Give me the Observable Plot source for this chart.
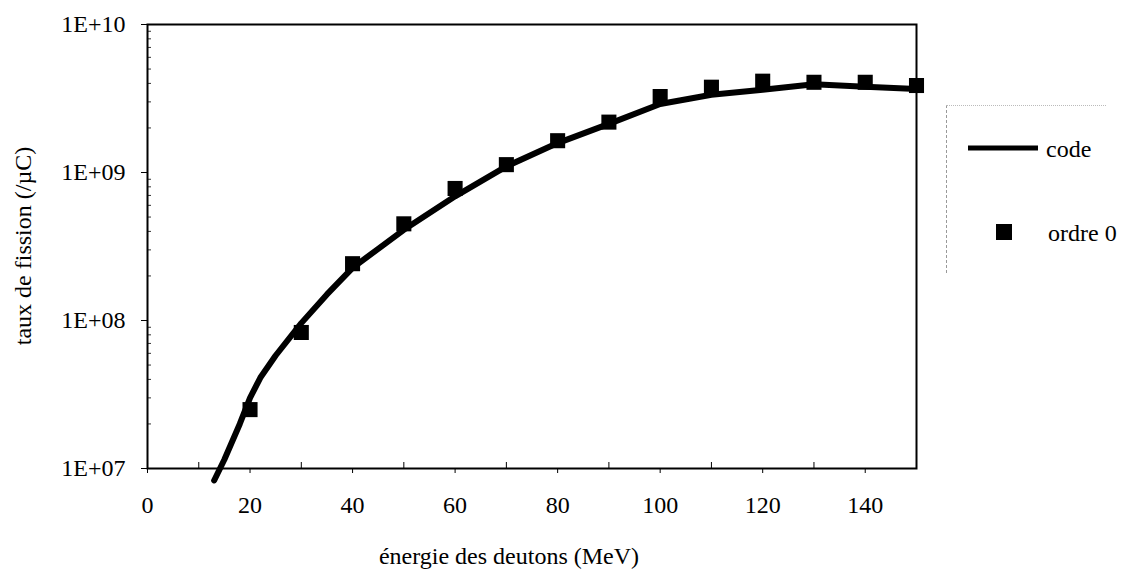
<!DOCTYPE html>
<html>
<head>
<meta charset="utf-8">
<script src="https://cdn.jsdelivr.net/npm/d3@7"></script>
<script src="https://cdn.jsdelivr.net/npm/@observablehq/plot@0.6"></script>
<style>
  body { margin: 0; background: #fff; }
  #wrap { position: relative; width: 1125px; height: 571px; font-family: "Liberation Serif", "Times New Roman", serif; color: #000; }
  .title { position: absolute; font-size: 24px; line-height: 24px; white-space: nowrap; }
  #xtitle { left: 509px; top: 544px; transform: translateX(-50%); }
  #ytitle { left: 23px; top: 246px; transform: translate(-50%, -50%) rotate(-90deg); }
  #legend { position: absolute; left: 946px; top: 105px; width: 159px; height: 167px; border-left: 1px dashed #999; border-top: 1px dotted #bbb; }
  #legend svg { overflow: visible; }
</style>
</head>
<body>
<div id="wrap">
  <div id="chart"></div>
  <div class="title" id="xtitle">énergie des deutons (MeV)</div>
  <div class="title" id="ytitle">taux de fission (/µC)</div>
  <div id="legend"></div>
</div>
<script>
// ---- data ----
const ordreEnergy = [20, 30, 40, 50, 60, 70, 80, 90, 100, 110, 120, 130, 140, 150];
const ordreRate   = [2.5e7, 8.3e7, 2.42e8, 4.5e8, 7.8e8, 1.13e9, 1.64e9, 2.19e9, 3.26e9, 3.77e9, 4.14e9, 4.07e9, 4.07e9, 3.87e9];

const codeEnergy = [13, 15, 18, 20, 22, 25, 30, 35, 40, 45, 50, 60, 70, 80, 90, 100, 110, 120, 130, 140, 150];
const codeRate   = [8.3e6, 1.15e7, 2.0e7, 3.0e7, 4.1e7, 5.8e7, 9.6e7, 1.5e8, 2.27e8, 3.05e8, 4.1e8, 6.9e8, 1.1e9, 1.58e9, 2.13e9, 2.9e9, 3.35e9, 3.62e9, 3.95e9, 3.8e9, 3.67e9];

const xTicks = [0, 20, 40, 60, 80, 100, 120, 140];
const xMinorTicks = [10, 30, 50, 70, 90, 110, 130, 150];
const yTicks = [1e7, 1e8, 1e9, 1e10];
const yTickLabels = ["1E+07", "1E+08", "1E+09", "1E+10"];
const yMinorTicks = [2e7,3e7,4e7,5e7,6e7,7e7,8e7,9e7,2e8,3e8,4e8,5e8,6e8,7e8,8e8,9e8,2e9,3e9,4e9,5e9,6e9,7e9,8e9,9e9];

const legendLabels = ["code", "ordre 0"];

// ---- tables ----
const ordre = ordreEnergy.map((e, i) => ({energy: e, rate: ordreRate[i]}));
const code = codeEnergy.map((e, i) => ({energy: e, rate: codeRate[i]}));

const chart = Plot.plot({
  width: 1125,
  height: 571,
  marginLeft: 147,
  marginRight: 209,
  marginTop: 24,
  marginBottom: 103,
  style: {fontFamily: '"Liberation Serif", "Times New Roman", serif', fontSize: "24px", color: "#000", background: "#fff", overflow: "visible"},
  x: {domain: [0, 150]},
  y: {type: "log", domain: [1e7, 1e10]},
  marks: [
    Plot.axisX(xTicks, {tickSize: 5, tickPadding: 22, label: null, stroke: "#000", fontSize: 24}),
    Plot.axisY(yTicks, {tickSize: 6, tickPadding: 16, label: null, fontSize: 24, tickFormat: (d) => yTickLabels[yTicks.indexOf(d)]}),
    Plot.tickX(xMinorTicks, {x: (d) => d, insetTop: 438, stroke: "#000", strokeWidth: 1}),
    Plot.tickY(yMinorTicks, {y: (d) => d, insetRight: 765, stroke: "#333", strokeWidth: 1}),
    Plot.frame({stroke: "#000", strokeWidth: 2}),
    Plot.line(code, {x: "energy", y: "rate", stroke: "#000", strokeWidth: 6, strokeLinejoin: "round"}),
    Plot.dot(ordre, {x: "energy", y: "rate", symbol: "square", r: 8.5, fill: "#000", stroke: null})
  ]
});
document.getElementById("chart").appendChild(chart);

// ---- legend ----
const lg = d3.select("#legend").append("svg").attr("width", 159).attr("height", 167)
  .style("font-family", '"Liberation Serif", "Times New Roman", serif').style("font-size", "24px");
lg.append("line").attr("x1", 21).attr("x2", 91).attr("y1", 42).attr("y2", 42).attr("stroke", "#000").attr("stroke-width", 5);
lg.append("text").attr("x", 99).attr("y", 51).text(legendLabels[0]);
lg.append("rect").attr("x", 49).attr("y", 118).attr("width", 16).attr("height", 16).attr("fill", "#000");
lg.append("text").attr("x", 101).attr("y", 135).text(legendLabels[1]);
</script>
</body>
</html>
